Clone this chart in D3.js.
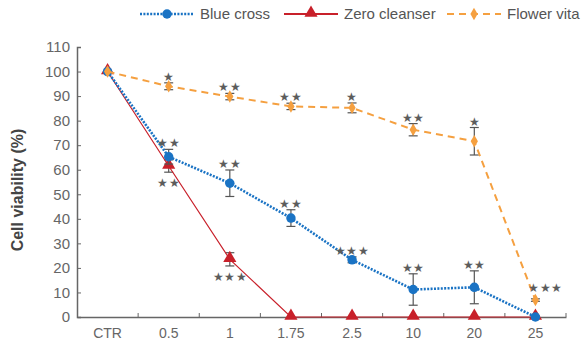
<!DOCTYPE html>
<html lang="en">
<head>
<meta charset="utf-8">
<title>Cell viability</title>
<script src="https://cdnjs.cloudflare.com/ajax/libs/d3/7.7.0/d3.min.js"></script>
<style>
  body { margin: 0; background: #fff; }
  svg text { font-family: "Liberation Sans", Arial, sans-serif; }
</style>
</head>
<body>
<div class="graph"></div>
<script>
// categories (dose) and values
const doses = ["CTR", "0.5", "1", "1.75", "2.5", "10", "20", "25"];
const blueVals = [100, 65.3, 54.5, 40.3, 23.3, 11.2, 12.1, 0];
const blueErr  = [0, 3, 5.4, 3.4, 1.2, 6.4, 6.7, 0];
const blueStars = ["", "**", "**", "**", "***", "**", "**", ""];
const redVals = [100, 61.5, 23.5, 0, 0, 0, 0, 0];
const redErr  = [0, 2.5, 2.7, 0, 0, 0, 0, 0];
const redStars = ["", "**", "***", "", "", "", "", ""];
const orangeVals = [100, 94, 89.8, 85.8, 85.2, 76.3, 71.6, 6.9];
const orangeErr  = [0, 1.4, 1.3, 1.3, 2, 2.5, 5.6, 0.5];
const orangeStars = ["", "*", "**", "**", "*", "**", "*", "***"];
const yTicks = [0, 10, 20, 30, 40, 50, 60, 70, 80, 90, 100, 110];

const w = 584, h = 349;
const mLeft = 77, mRight = 566, mTop = 47, mBottom = 317;

const svg = d3.select(".graph").append("svg")
  .attr("width", w).attr("height", h);

const x = d3.scaleBand().domain(doses).range([mLeft, mRight]);
const y = d3.scaleLinear().domain([0, 110]).range([mBottom, mTop]);
const cx = d => x(d) + x.bandwidth() / 2;

// axes
const yAxis = d3.axisLeft(y).tickValues(yTicks).tickSize(-4).tickPadding(7);
const gy = svg.append("g").attr("transform", `translate(${mLeft},0)`).call(yAxis);
gy.select(".domain").attr("stroke", "#666").attr("stroke-width", 1.5);
gy.selectAll(".tick line").attr("stroke", "#666");
gy.selectAll(".tick text").attr("fill", "#666").style("font-size", "15px");

const xAxis = d3.axisBottom(x).tickSize(0).tickPadding(11);
const gx = svg.append("g").attr("transform", `translate(0,${mBottom})`).call(xAxis);
gx.select(".domain").attr("stroke", "#666").attr("stroke-width", 1.5);
gx.selectAll(".tick text").attr("fill", "#666").style("font-size", "14px");
// ticks on band boundaries, pointing up
svg.append("g").selectAll("line")
  .data(doses)
  .enter().append("line")
  .attr("x1", d => x(d) + x.bandwidth()).attr("x2", d => x(d) + x.bandwidth())
  .attr("y1", mBottom).attr("y2", mBottom - 4)
  .attr("stroke", "#666");

svg.append("text")
  .attr("transform", `translate(23,${(mTop + mBottom) / 2 + 8}) rotate(-90)`)
  .attr("text-anchor", "middle")
  .attr("fill", "#444")
  .style("font-size", "16px")
  .style("font-weight", "bold")
  .text("Cell viability (%)");

const series = [
  { name: "Blue cross", vals: blueVals, err: blueErr, stars: blueStars, color: "#1a73c4",
    width: 2.6, dash: "2,1.4", marker: "circle", starPos: ["up","up","up","up","up","up","up","up"] },
  { name: "Zero cleanser", vals: redVals, err: redErr, stars: redStars, color: "#c8202a",
    width: 1.2, dash: null, marker: "triangle", starPos: ["down","down","down","down","down","down","down","down"] },
  { name: "Flower vita", vals: orangeVals, err: orangeErr, stars: orangeStars, color: "#f5a040",
    width: 2, dash: "7,5", marker: "diamond", starPos: ["up","up","up","up","up","up","up","upright"] }
];

const symbols = {
  circle: d3.symbol().type(d3.symbolCircle).size(70),
  triangle: d3.symbol().type(d3.symbolTriangle).size(75),
  diamond: d3.symbol().type(d3.symbolDiamond).size(45)
};

const line = d3.line().x(d => cx(d.dose)).y(d => y(d.v));

// lines drawn back to front: red, blue, orange
[series[1], series[0], series[2]].forEach(s => {
  const pts = doses.map((d, i) => ({ dose: d, v: s.vals[i], e: s.err[i], star: s.stars[i], pos: s.starPos[i] }));
  const g = svg.append("g");

  // error bars
  const eb = g.selectAll(".err").data(pts.filter(p => p.e > 0)).enter().append("g");
  eb.append("line")
    .attr("x1", p => cx(p.dose)).attr("x2", p => cx(p.dose))
    .attr("y1", p => y(p.v - p.e)).attr("y2", p => y(p.v + p.e))
    .attr("stroke", "#555").attr("stroke-width", 1.2);
  [1, -1].forEach(sg => {
    eb.append("line")
      .attr("x1", p => cx(p.dose) - 4.5).attr("x2", p => cx(p.dose) + 4.5)
      .attr("y1", p => y(p.v + sg * p.e)).attr("y2", p => y(p.v + sg * p.e))
      .attr("stroke", "#555").attr("stroke-width", 1.2);
  });

  g.append("path")
    .datum(pts)
    .attr("d", line)
    .attr("fill", "none")
    .attr("stroke", s.color)
    .attr("stroke-width", s.width)
    .attr("stroke-dasharray", s.dash);

  g.selectAll(".mk").data(pts).enter().append("path")
    .attr("d", symbols[s.marker])
    .attr("transform", p => `translate(${cx(p.dose)},${y(p.v) + (s.marker === "triangle" ? -1 : 0)})`)
    .attr("fill", s.color);

  // significance stars
  g.selectAll(".st").data(pts.filter(p => p.star)).enter().append("text")
    .attr("x", p => cx(p.dose) + (p.pos === "upright" ? 10 : 0))
    .attr("y", p => p.pos === "down" ? y(p.v - p.e) + 15 : y(p.v + p.e) - (p.pos === "upright" ? 7 : 2))
    .attr("text-anchor", "middle")
    .attr("fill", "#5c5c5c")
    .style("font-size", "11.5px")
    .style("letter-spacing", "0.5px")
    .text(p => p.star.replace(/\*/g, "\u2605"));
});

// legend
const legX = [140, 284, 447];
series.forEach((s, i) => {
  const g = svg.append("g").attr("transform", `translate(${legX[i]},14)`);
  g.append("line").attr("x1", 0).attr("x2", 54).attr("y1", 0).attr("y2", 0)
    .attr("stroke", s.color).attr("stroke-width", s.width < 2 ? 2 : s.width)
    .attr("stroke-dasharray", s.dash);
  g.append("path").attr("d", symbols[s.marker])
    .attr("transform", `translate(27,${s.marker === "triangle" ? -1 : 0})`)
    .attr("fill", s.color);
  g.append("text").attr("x", 60).attr("y", 5)
    .attr("fill", "#555").style("font-size", "15px").text(s.name);
});
</script>
</body>
</html>
